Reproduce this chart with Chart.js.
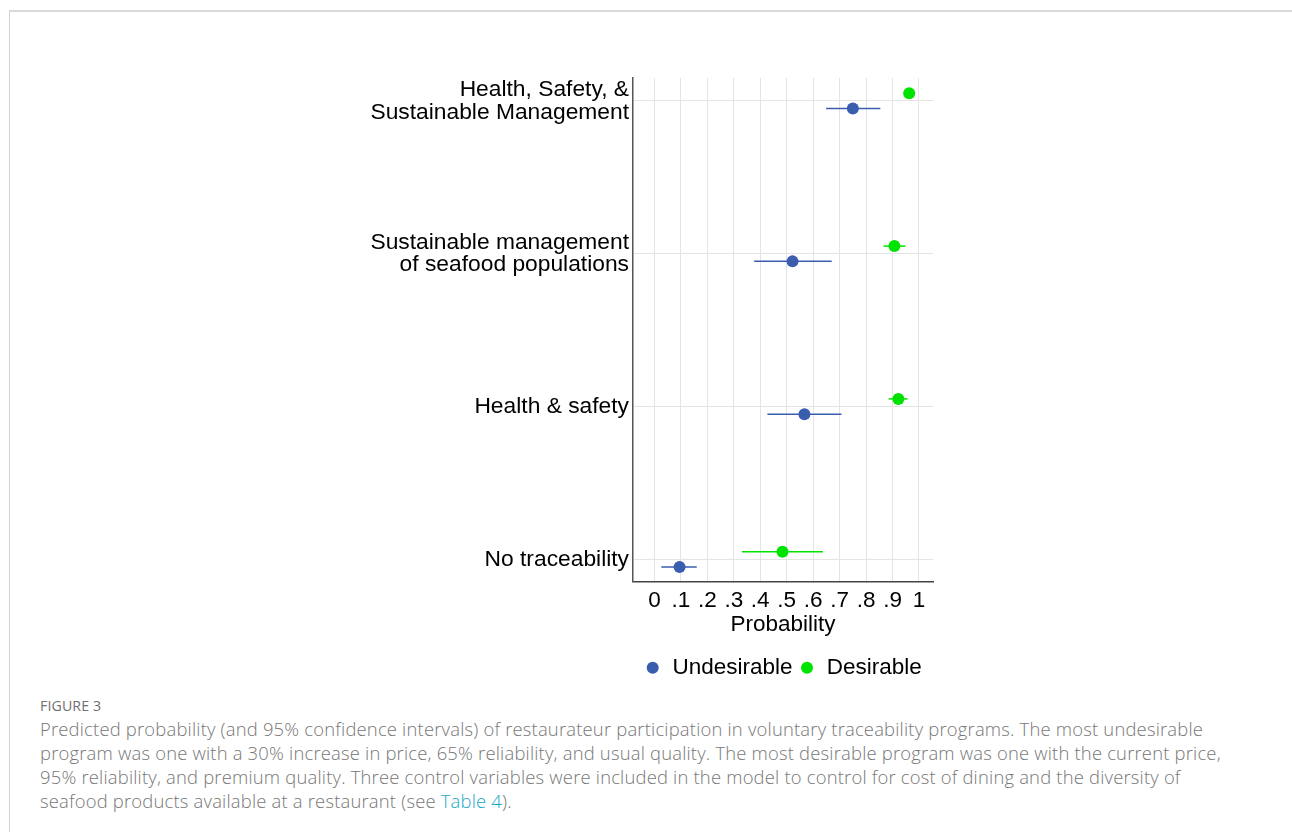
<!DOCTYPE html>
<html>
<head>
<meta charset="utf-8">
<script src="https://cdn.jsdelivr.net/npm/chart.js@4.4.1/dist/chart.umd.min.js"></script>
<style>
  html, body { margin: 0; padding: 0; background: #fff; }
  body { width: 1292px; height: 832px; position: relative; overflow: hidden; font-family: "Liberation Sans", Arial, sans-serif; }
  .frame { position: absolute; left: 9px; top: 10px; right: 0; bottom: 0; border-top: 2px solid #dadada; border-left: 1px solid #d2d2d2; }
  #wrap { position: absolute; left: 340px; top: 60px; width: 886px; height: 635px; }
  .fig { position: absolute; left: 40px; top: 696px; font-family: "Open Sans", sans-serif; font-size: 14.2px; color: #707070; letter-spacing: 0.1px; }
  .cap { position: absolute; left: 40px; top: 717px; font-family: "Open Sans", sans-serif; font-weight: 300; font-size: 18.4px; letter-spacing: 0.2px; line-height: 24px; color: #777; white-space: nowrap; }
  .cap .ref { color: #18a8c8; }
</style>
</head>
<body>
<div class="frame"></div>
<div id="wrap"><canvas id="c" width="886" height="635"></canvas></div>
<div class="fig">FIGURE 3</div>
<div class="cap">Predicted probability (and 95% confidence intervals) of restaurateur participation in voluntary traceability programs. The most undesirable<br>program was one with a 30% increase in price, 65% reliability, and usual quality. The most desirable program was one with the current price,<br>95% reliability, and premium quality. Three control variables were included in the model to control for cost of dining and the diversity of<br>seafood products available at a restaurant (see <span class="ref">Table 4</span>).</div>

<script>
// Programs, listed top to bottom
const categories = [
  ["Health, Safety, &", "Sustainable Management"],
  ["Sustainable management", "of seafood populations"],
  "Health & safety",
  "No traceability"
];

// Predicted probabilities with 95% confidence bounds
const undesirableEst  = [0.750, 0.522, 0.567, 0.095];
const undesirableLow  = [0.649, 0.377, 0.427, 0.026];
const undesirableHigh = [0.854, 0.670, 0.707, 0.160];

const desirableEst  = [0.963, 0.907, 0.922, 0.484];
const desirableLow  = [0.952, 0.866, 0.885, 0.331];
const desirableHigh = [0.974, 0.949, 0.957, 0.637];

// Probability axis ticks
const xTickValues = [0, 0.1, 0.2, 0.3, 0.4, 0.5, 0.6, 0.7, 0.8, 0.9, 1];
const xTickLabels = ["0", ".1", ".2", ".3", ".4", ".5", ".6", ".7", ".8", ".9", "1"];

const BLUE = "#3a5dae";
const GREEN = "#00e300";
const FONT = "'Liberation Sans', Arial, Helvetica, sans-serif";

const n = categories.length;
const rowPos = categories.map((_, i) => n - 1 - i);   // top row gets the highest value
const SHIFT = 0.05;                                   // separates the two series within a row

function series(est, low, high, dy) {
  return est.map((v, i) => ({ x: v, y: rowPos[i] + dy, lo: low[i], hi: high[i] }));
}

// Confidence-interval whiskers drawn under the markers
const ciPlugin = {
  id: "ciBars",
  beforeDatasetsDraw(chart) {
    const { ctx, scales: { x, y } } = chart;
    ctx.save();
    chart.data.datasets.forEach((ds) => {
      ctx.strokeStyle = ds.backgroundColor;
      ctx.lineWidth = 1.5;
      ds.data.forEach((p) => {
        const py = y.getPixelForValue(p.y);
        ctx.beginPath();
        ctx.moveTo(x.getPixelForValue(p.lo), py);
        ctx.lineTo(x.getPixelForValue(p.hi), py);
        ctx.stroke();
      });
    });
    ctx.restore();
  }
};

new Chart(document.getElementById("c"), {
  type: "scatter",
  data: {
    datasets: [
      { label: "Undesirable", data: series(undesirableEst, undesirableLow, undesirableHigh, -SHIFT),
        backgroundColor: BLUE, borderColor: BLUE, borderWidth: 0, pointRadius: 6, pointStyle: "circle" },
      { label: "Desirable", data: series(desirableEst, desirableLow, desirableHigh, SHIFT),
        backgroundColor: GREEN, borderColor: GREEN, borderWidth: 0, pointRadius: 6, pointStyle: "circle" }
    ]
  },
  plugins: [ciPlugin],
  options: {
    responsive: false,
    animation: false,
    layout: { padding: { top: 18, bottom: 6, left: 0, right: 0 } },
    plugins: {
      tooltip: { enabled: false },
      legend: {
        position: "bottom",
        labels: {
          usePointStyle: true,
          boxWidth: 17,
          boxHeight: 8.5,
          padding: 6,
          color: "#000",
          font: { family: FONT, size: 22.5 }
        }
      }
    },
    scales: {
      x: {
        type: "linear",
        min: -0.081,
        max: 1.053,
        afterBuildTicks: (s) => { s.ticks = xTickValues.map((v) => ({ value: v })); },
        ticks: {
          color: "#000",
          padding: 6,
          maxRotation: 0,
          autoSkip: false,
          font: { family: FONT, size: 22.5 },
          callback: (v, i) => xTickLabels[i]
        },
        grid: { color: "#e4e4e4", lineWidth: 1, drawTicks: false },
        border: { color: "#444", width: 1.5 },
        title: { display: true, text: "Probability", color: "#000",
                 font: { family: FONT, size: 22.5 }, padding: { top: -9, bottom: 12 } }
      },
      y: {
        type: "linear",
        min: -0.145,
        max: 3.15,
        afterBuildTicks: (s) => { s.ticks = rowPos.map((v) => ({ value: v })); },
        afterFit: (s) => { s.width = 293; },
        ticks: {
          color: "#000",
          padding: 4,
          autoSkip: false,
          font: { family: FONT, size: 22.8, lineHeight: 1.0 },
          callback: (v) => categories[n - 1 - Math.round(v)]
        },
        grid: { color: "#e4e4e4", lineWidth: 1, drawTicks: false },
        border: { color: "#555", width: 1.5 }
      },
      yRight: {
        type: "linear",
        position: "right",
        display: true,
        afterFit: (s) => { s.width = 293; },
        ticks: { display: false },
        grid: { display: false, drawTicks: false },
        border: { display: false }
      }
    }
  }
});
</script>
</body>
</html>
